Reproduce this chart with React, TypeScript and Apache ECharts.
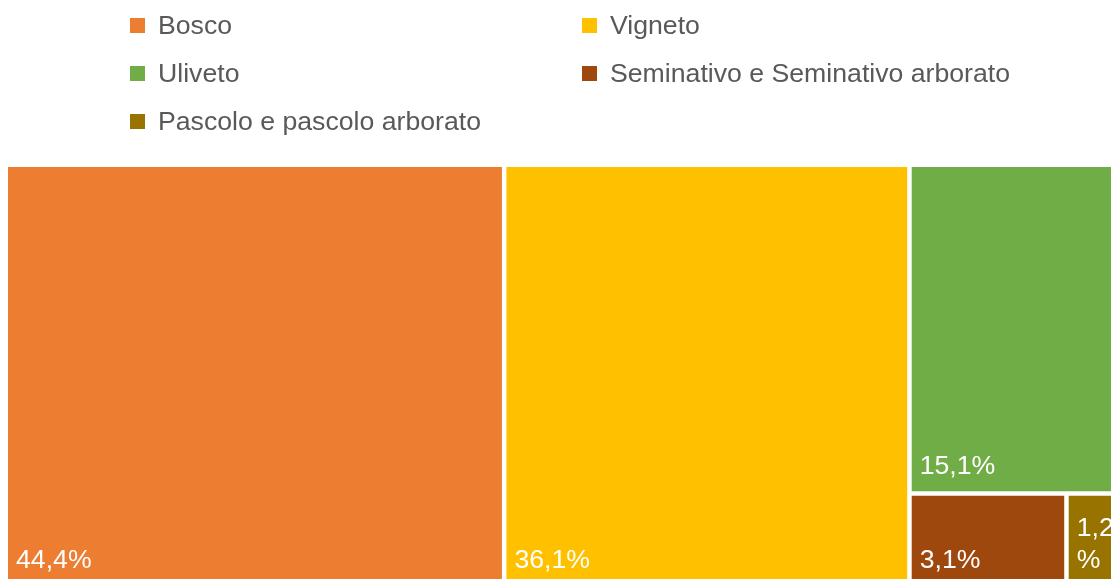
import React, { useEffect, useRef } from "react";
import * as echarts from "echarts";

const categories = [
  "Bosco",
  "Vigneto",
  "Uliveto",
  "Seminativo e Seminativo arborato",
  "Pascolo e pascolo arborato",
];
const shares = [44.4, 36.1, 15.1, 3.1, 1.2];
const colors = ["#ED7D31", "#FFC000", "#70AD47", "#9E480E", "#997300"];

const FONT = "'Liberation Sans', Arial, sans-serif";
const FS = 26.67;

export default function App() {
  const ref = useRef<HTMLDivElement>(null);
  useEffect(() => {
    if (!ref.current) return;
    const chart = echarts.init(ref.current, undefined, { renderer: "svg" });
    const legendEls: any[] = [];
    categories.forEach((name, i) => {
      const col = i % 2;
      const row = Math.floor(i / 2);
      legendEls.push({
        type: "rect",
        shape: { x: 130 + col * 452, y: 18 + row * 48, width: 15, height: 15 },
        style: { fill: colors[i] },
      });
      legendEls.push({
        type: "text",
        x: 158 + col * 452,
        y: 25 + row * 48,
        style: {
          text: name,
          fill: "#595959",
          font: `${FS}px ${FONT}`,
          verticalAlign: "middle",
          align: "left",
        },
      });
    });
    chart.setOption({
      animation: false,
      graphic: legendEls,
      series: [
        {
          type: "treemap",
          left: 8,
          top: 167,
          width: 1117,
          height: 418,
          roam: false,
          nodeClick: false,
          breadcrumb: { show: false },
          itemStyle: { gapWidth: 4.5, borderWidth: 0, borderColor: "#fff" },
          label: {
            show: true,
            position: "insideBottomLeft",
            distance: 3,
            offset: [0, -2],
            color: "#fff",
            fontSize: FS,
            lineHeight: 32,
            fontFamily: FONT,
            overflow: "breakAll",
            formatter: (p: any) => p.value.toFixed(1).replace(".", ",") + "%",
          },
          data: categories.map((name, i) => ({
            name,
            value: shares[i],
            itemStyle: { color: colors[i] },
          })),
        },
      ],
    });
    return () => chart.dispose();
  }, []);
  return (
    <div style={{ position: "fixed", left: 0, top: 0, width: "100vw", height: "100vh", overflow: "hidden" }}>
      <div ref={ref} style={{ position: "absolute", left: 0, top: 0, width: 1140, height: 600 }} />
    </div>
  );
}
